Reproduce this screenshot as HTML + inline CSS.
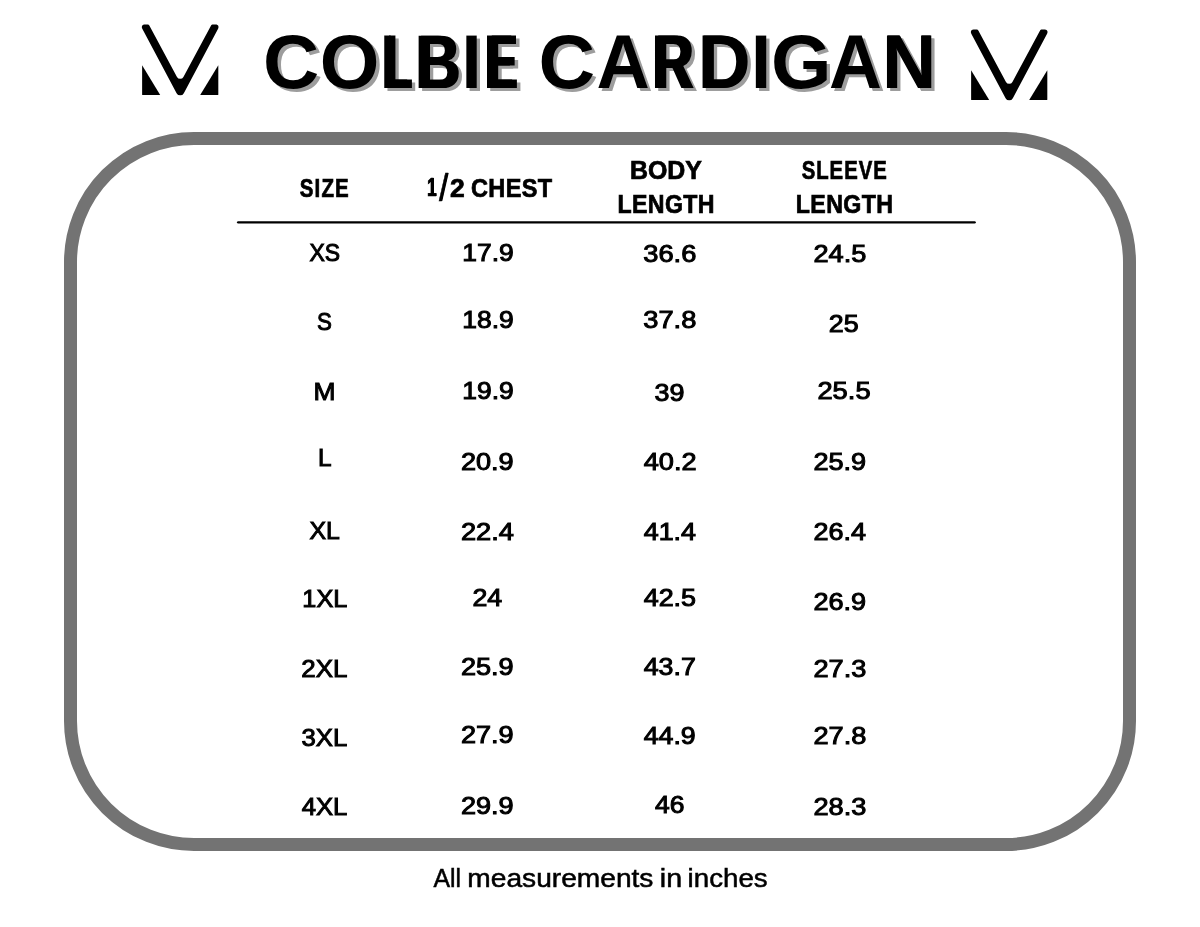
<!DOCTYPE html>
<html lang="en">
<head>
<meta charset="utf-8">
<title>Colbie Cardigan size chart</title>
<style>
html,body{margin:0;padding:0;background:#fff;}
body{width:1200px;height:927px;overflow:hidden;}
.page{filter:grayscale(1);position:relative;width:1200px;height:927px;background:#fff;overflow:hidden;font-family:"Liberation Sans",sans-serif;color:#000;}
.t{position:absolute;left:0;top:0;white-space:nowrap;transform-origin:0 0;font-kerning:none;letter-spacing:0;margin:0;padding:0;}
.b{font-weight:700;}
.r{font-weight:400;}
.frame{position:absolute;left:64px;top:132px;width:1046px;height:693px;border:13px solid #737373;border-radius:130px;box-sizing:content-box;background:#fff;}
.rule{position:absolute;left:0;top:217px;}
.logo{position:absolute;fill:#000;}
</style>
</head>
<body>
<div class="page">
<div class="title">
<svg class="logo" style="left:135px;top:15px" width="90" height="90" viewBox="0 0 90 90" aria-label="logo">
<path d="M7.3 13.7 C6.2 11.6 7.2 9.4 9.6 9.4 L13 9.4 C13.9 9.4 14.2 10.2 14.6 11.1 L41.98 61.88 A3.66 3.66 0 0 0 48.42 61.88 L75.8 11.1 C76.2 10.2 76.5 9.4 77.4 9.4 L80.8 9.4 C83.2 9.4 84.2 11.6 83.1 13.7 L48.82 78.19 A4.1 4.1 0 0 1 41.58 78.19 Z"/>
<path d="M7.1 50.25 L25.2 80.05 L7.8 80.1 Q7.1 80.1 7.1 79.4 Z"/>
<path d="M83.3 50.25 L65.2 80.05 L82.6 80.1 Q83.3 80.1 83.3 79.4 Z"/>
</svg>
<div class="t b ttl" style="font-size:75.15px;line-height:84px;height:84px;transform:translate(263.11px,19.50px) scaleX(1.0360);text-shadow:3.19px 3.50px 0 #9d9d9d;">C</div>
<div class="t b ttl" style="font-size:75.15px;line-height:84px;height:84px;transform:translate(319.85px,19.50px) scaleX(1.0208);text-shadow:3.23px 3.50px 0 #9d9d9d;">O</div>
<div class="t b ttl" style="font-size:75.15px;line-height:84px;height:84px;transform:translate(381.21px,19.50px) scaleX(0.5948);text-shadow:8.17px 0 0 #000,5.55px 3.50px 0 #9d9d9d,13.72px 3.50px 0 #9d9d9d;">L</div>
<div class="t b ttl" style="font-size:75.15px;line-height:84px;height:84px;transform:translate(414.58px,19.50px) scaleX(0.8199);text-shadow:2.96px 0 0 #000,4.02px 3.50px 0 #9d9d9d,6.98px 3.50px 0 #9d9d9d;">B</div>
<div class="t b ttl" style="font-size:75.15px;line-height:84px;height:84px;transform:translate(461.47px,19.50px) scaleX(0.9608);text-shadow:3.43px 3.50px 0 #9d9d9d;">I</div>
<div class="t b ttl" style="font-size:75.15px;line-height:84px;height:84px;transform:translate(484.00px,19.50px) scaleX(0.5968);text-shadow:8.11px 0 0 #000,5.53px 3.50px 0 #9d9d9d,13.64px 3.50px 0 #9d9d9d;">E</div>
<div class="t b ttl" style="font-size:75.15px;line-height:84px;height:84px;transform:translate(538.48px,19.50px) scaleX(1.0441);text-shadow:3.16px 3.50px 0 #9d9d9d;">C</div>
<div class="t b ttl" style="font-size:75.15px;line-height:84px;height:84px;transform:translate(596.46px,19.50px) scaleX(0.9818);text-shadow:3.36px 3.50px 0 #9d9d9d;">A</div>
<div class="t b ttl" style="font-size:75.15px;line-height:84px;height:84px;transform:translate(651.26px,19.50px) scaleX(0.7430);text-shadow:4.38px 0 0 #000,4.44px 3.50px 0 #9d9d9d,8.82px 3.50px 0 #9d9d9d;">R</div>
<div class="t b ttl" style="font-size:75.15px;line-height:84px;height:84px;transform:translate(697.70px,19.50px) scaleX(0.9557);text-shadow:1.00px 0 0 #000,3.45px 3.50px 0 #9d9d9d,4.45px 3.50px 0 #9d9d9d;">D</div>
<div class="t b ttl" style="font-size:75.15px;line-height:84px;height:84px;transform:translate(750.97px,19.50px) scaleX(0.9608);text-shadow:3.43px 3.50px 0 #9d9d9d;">I</div>
<div class="t b ttl" style="font-size:75.15px;line-height:84px;height:84px;transform:translate(771.01px,19.50px) scaleX(1.0353);text-shadow:3.19px 3.50px 0 #9d9d9d;">G</div>
<div class="t b ttl" style="font-size:75.15px;line-height:84px;height:84px;transform:translate(828.97px,19.50px) scaleX(0.9759);text-shadow:3.38px 3.50px 0 #9d9d9d;">A</div>
<div class="t b ttl" style="font-size:75.15px;line-height:84px;height:84px;transform:translate(882.04px,19.50px) scaleX(0.9864);text-shadow:0.63px 0 0 #000,3.35px 3.50px 0 #9d9d9d,3.98px 3.50px 0 #9d9d9d;">N</div>
<svg class="logo" style="left:964px;top:20px" width="90" height="90" viewBox="0 0 90 90" aria-label="logo">
<path d="M7.3 13.7 C6.2 11.6 7.2 9.4 9.6 9.4 L13 9.4 C13.9 9.4 14.2 10.2 14.6 11.1 L41.98 61.88 A3.66 3.66 0 0 0 48.42 61.88 L75.8 11.1 C76.2 10.2 76.5 9.4 77.4 9.4 L80.8 9.4 C83.2 9.4 84.2 11.6 83.1 13.7 L48.82 78.19 A4.1 4.1 0 0 1 41.58 78.19 Z"/>
<path d="M7.1 50.25 L25.2 80.05 L7.8 80.1 Q7.1 80.1 7.1 79.4 Z"/>
<path d="M83.3 50.25 L65.2 80.05 L82.6 80.1 Q83.3 80.1 83.3 79.4 Z"/>
</svg>
</div>
<div class="frame"></div>
<div class="thead">
<div class="t b" style="font-size:24.86px;line-height:28px;height:28px;transform:translate(299.70px,173.96px) scaleX(0.8253);letter-spacing:1.40px;-webkit-text-stroke:0.70px #000;">SIZE</div>
<div class="t b" style="font-size:24.86px;line-height:28px;height:28px;transform:translate(426.98px,173.45px) scaleX(0.6781);-webkit-text-stroke:0.70px #000;text-shadow:1.30px 0 0 #000;">1</div>
<div class="t r" style="font-size:38.40px;line-height:43px;height:43px;transform:translate(438.95px,165.92px) scaleX(0.8382);-webkit-text-stroke:0.60px #000;text-shadow:0.90px 0 0 #000;">/</div>
<div class="t b" style="font-size:24.86px;line-height:28px;height:28px;transform:translate(450.05px,173.58px) scaleX(1.0657);-webkit-text-stroke:0.70px #000;">2</div>
<div class="t b" style="font-size:24.86px;line-height:28px;height:28px;transform:translate(470.97px,173.66px) scaleX(0.9453);letter-spacing:0.40px;-webkit-text-stroke:0.70px #000;">CHEST</div>
<div class="t b" style="font-size:24.86px;line-height:28px;height:28px;transform:translate(629.94px,155.96px) scaleX(1.0006);-webkit-text-stroke:0.70px #000;">BODY</div>
<div class="t b" style="font-size:24.86px;line-height:28px;height:28px;transform:translate(617.53px,189.96px) scaleX(0.9306);letter-spacing:0.40px;-webkit-text-stroke:0.70px #000;">LENGTH</div>
<div class="t b" style="font-size:24.86px;line-height:28px;height:28px;transform:translate(801.70px,155.96px) scaleX(0.8172);letter-spacing:1.20px;-webkit-text-stroke:0.70px #000;">SLEEVE</div>
<div class="t b" style="font-size:24.86px;line-height:28px;height:28px;transform:translate(795.78px,189.96px) scaleX(0.9330);letter-spacing:0.40px;-webkit-text-stroke:0.70px #000;">LENGTH</div>
</div>
<svg class="rule" width="1200" height="10" viewBox="0 0 1200 10"><line x1="238.2" y1="5.35" x2="974.6" y2="5.35" stroke="#000" stroke-width="2.4" stroke-linecap="round"/></svg>
<div class="tbody">
<div class="row"><div class="t r" style="font-size:24.29px;line-height:27px;height:27px;transform:translate(309.46px,239.11px) scaleX(0.9450);-webkit-text-stroke:1.00px #000;">XS</div><div class="t r" style="font-size:24.29px;line-height:27px;height:27px;transform:translate(462.28px,239.11px) scaleX(1.0877);-webkit-text-stroke:1.00px #000;">17.9</div><div class="t r" style="font-size:24.29px;line-height:27px;height:27px;transform:translate(643.27px,240.11px) scaleX(1.1234);-webkit-text-stroke:1.00px #000;">36.6</div><div class="t r" style="font-size:24.29px;line-height:27px;height:27px;transform:translate(813.44px,240.11px) scaleX(1.1186);-webkit-text-stroke:1.00px #000;">24.5</div></div>
<div class="row"><div class="t r" style="font-size:24.29px;line-height:27px;height:27px;transform:translate(316.95px,307.96px) scaleX(0.9176);-webkit-text-stroke:1.00px #000;">S</div><div class="t r" style="font-size:24.29px;line-height:27px;height:27px;transform:translate(462.28px,306.36px) scaleX(1.0877);-webkit-text-stroke:1.00px #000;">18.9</div><div class="t r" style="font-size:24.29px;line-height:27px;height:27px;transform:translate(643.27px,306.26px) scaleX(1.1231);-webkit-text-stroke:1.00px #000;">37.8</div><div class="t r" style="font-size:24.29px;line-height:27px;height:27px;transform:translate(828.70px,309.76px) scaleX(1.1055);-webkit-text-stroke:1.00px #000;">25</div></div>
<div class="row"><div class="t r" style="font-size:24.29px;line-height:27px;height:27px;transform:translate(313.38px,378.46px) scaleX(1.0869);-webkit-text-stroke:1.00px #000;">M</div><div class="t r" style="font-size:24.29px;line-height:27px;height:27px;transform:translate(462.28px,376.61px) scaleX(1.0877);-webkit-text-stroke:1.00px #000;">19.9</div><div class="t r" style="font-size:24.29px;line-height:27px;height:27px;transform:translate(654.53px,378.86px) scaleX(1.1081);-webkit-text-stroke:1.00px #000;">39</div><div class="t r" style="font-size:24.29px;line-height:27px;height:27px;transform:translate(817.44px,377.36px) scaleX(1.1240);-webkit-text-stroke:1.00px #000;">25.5</div></div>
<div class="row"><div class="t r" style="font-size:24.29px;line-height:27px;height:27px;transform:translate(318.00px,443.96px) scaleX(1.0033);-webkit-text-stroke:1.00px #000;">L</div><div class="t r" style="font-size:24.29px;line-height:27px;height:27px;transform:translate(460.94px,447.61px) scaleX(1.1163);-webkit-text-stroke:1.00px #000;">20.9</div><div class="t r" style="font-size:24.29px;line-height:27px;height:27px;transform:translate(643.69px,448.46px) scaleX(1.1182);-webkit-text-stroke:1.00px #000;">40.2</div><div class="t r" style="font-size:24.29px;line-height:27px;height:27px;transform:translate(813.44px,448.46px) scaleX(1.1163);-webkit-text-stroke:1.00px #000;">25.9</div></div>
<div class="row"><div class="t r" style="font-size:24.29px;line-height:27px;height:27px;transform:translate(309.45px,516.61px) scaleX(1.0217);-webkit-text-stroke:1.00px #000;">XL</div><div class="t r" style="font-size:24.29px;line-height:27px;height:27px;transform:translate(460.94px,518.08px) scaleX(1.1219);-webkit-text-stroke:1.00px #000;">22.4</div><div class="t r" style="font-size:24.29px;line-height:27px;height:27px;transform:translate(643.69px,517.76px) scaleX(1.1061);-webkit-text-stroke:1.00px #000;">41.4</div><div class="t r" style="font-size:24.29px;line-height:27px;height:27px;transform:translate(813.45px,517.76px) scaleX(1.1111);-webkit-text-stroke:1.00px #000;">26.4</div></div>
<div class="row"><div class="t r" style="font-size:24.29px;line-height:27px;height:27px;transform:translate(302.34px,585.36px) scaleX(1.0405);-webkit-text-stroke:1.00px #000;">1XL</div><div class="t r" style="font-size:24.29px;line-height:27px;height:27px;transform:translate(472.45px,583.73px) scaleX(1.1020);-webkit-text-stroke:1.00px #000;">24</div><div class="t r" style="font-size:24.29px;line-height:27px;height:27px;transform:translate(643.69px,583.76px) scaleX(1.1080);-webkit-text-stroke:1.00px #000;">42.5</div><div class="t r" style="font-size:24.29px;line-height:27px;height:27px;transform:translate(813.44px,587.61px) scaleX(1.1163);-webkit-text-stroke:1.00px #000;">26.9</div></div>
<div class="row"><div class="t r" style="font-size:24.29px;line-height:27px;height:27px;transform:translate(301.23px,654.98px) scaleX(1.0664);-webkit-text-stroke:1.00px #000;">2XL</div><div class="t r" style="font-size:24.29px;line-height:27px;height:27px;transform:translate(460.94px,653.11px) scaleX(1.1163);-webkit-text-stroke:1.00px #000;">25.9</div><div class="t r" style="font-size:24.29px;line-height:27px;height:27px;transform:translate(643.69px,653.11px) scaleX(1.1021);-webkit-text-stroke:1.00px #000;">43.7</div><div class="t r" style="font-size:24.29px;line-height:27px;height:27px;transform:translate(813.44px,655.36px) scaleX(1.1197);-webkit-text-stroke:1.00px #000;">27.3</div></div>
<div class="row"><div class="t r" style="font-size:24.29px;line-height:27px;height:27px;transform:translate(301.55px,723.96px) scaleX(1.0590);-webkit-text-stroke:1.00px #000;">3XL</div><div class="t r" style="font-size:24.29px;line-height:27px;height:27px;transform:translate(460.94px,720.61px) scaleX(1.1163);-webkit-text-stroke:1.00px #000;">27.9</div><div class="t r" style="font-size:24.29px;line-height:27px;height:27px;transform:translate(643.69px,721.76px) scaleX(1.1004);-webkit-text-stroke:1.00px #000;">44.9</div><div class="t r" style="font-size:24.29px;line-height:27px;height:27px;transform:translate(813.44px,721.76px) scaleX(1.1195);-webkit-text-stroke:1.00px #000;">27.8</div></div>
<div class="row"><div class="t r" style="font-size:24.29px;line-height:27px;height:27px;transform:translate(301.69px,793.26px) scaleX(1.0557);-webkit-text-stroke:1.00px #000;">4XL</div><div class="t r" style="font-size:24.29px;line-height:27px;height:27px;transform:translate(460.94px,791.61px) scaleX(1.1163);-webkit-text-stroke:1.00px #000;">29.9</div><div class="t r" style="font-size:24.29px;line-height:27px;height:27px;transform:translate(654.94px,791.11px) scaleX(1.0892);-webkit-text-stroke:1.00px #000;">46</div><div class="t r" style="font-size:24.29px;line-height:27px;height:27px;transform:translate(813.44px,792.86px) scaleX(1.1197);-webkit-text-stroke:1.00px #000;">28.3</div></div>
</div>
<div class="note">
<div class="t r f" style="font-size:25.10px;line-height:28px;height:28px;transform:translate(433.45px,863.80px) scaleX(0.9881);-webkit-text-stroke:0.50px #000;">All</div>
<div class="t r f" style="font-size:25.10px;line-height:28px;height:28px;transform:translate(467.31px,863.80px) scaleX(1.1215);-webkit-text-stroke:0.50px #000;">measurements</div>
<div class="t r f" style="font-size:25.10px;line-height:28px;height:28px;transform:translate(659.77px,863.80px) scaleX(1.1419);-webkit-text-stroke:0.50px #000;">in</div>
<div class="t r f" style="font-size:25.10px;line-height:28px;height:28px;transform:translate(687.62px,863.80px) scaleX(1.1026);-webkit-text-stroke:0.50px #000;">inches</div>
</div>
</div>
</body>
</html>
